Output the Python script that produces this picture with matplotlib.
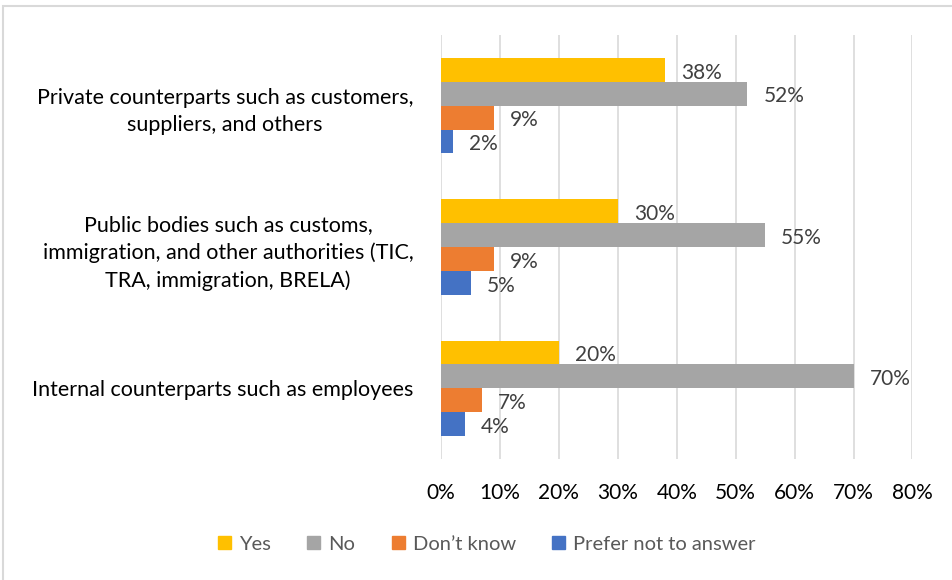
import matplotlib.pyplot as plt
import matplotlib.patches as mpatches
import numpy as np

plt.rcParams['font.family'] = ['Lato', 'DejaVu Sans']

categories = [
    'Private counterparts such as customers,\nsuppliers, and others',
    'Public bodies such as customs,\nimmigration, and other authorities (TIC,\nTRA, immigration, BRELA)',
    'Internal counterparts such as employees',
]
series_names = ['Yes', 'No', 'Don\u2019t know', 'Prefer not to answer']
yes = [38, 30, 20]
no = [52, 55, 70]
dont_know = [9, 9, 7]
prefer_not = [2, 5, 4]
xticks = [0, 10, 20, 30, 40, 50, 60, 70, 80]

colors = ['#FFC000', '#A5A5A5', '#ED7D31', '#4472C4']
values = [yes, no, dont_know, prefer_not]

fig = plt.figure(figsize=(9.53, 5.8), dpi=100)
ax = fig.add_axes([0.4628, 0.2086, 0.4947, 0.7311])

# outer chart frame
fig.patches.append(mpatches.Rectangle((3 / 953, -0.01), 1.0, 1 - 6 / 580 + 0.01,
                                      transform=fig.transFigure, fill=False,
                                      edgecolor='#D9D9D9', linewidth=1.5))

pos = np.arange(len(categories))
h = 0.169
offsets = [-1.5 * h, -0.5 * h, 0.5 * h, 1.5 * h]

for vals, col, off, name in zip(values, colors, offsets, series_names):
    bars = ax.barh(pos + off, vals, height=h, color=col, label=name, zorder=3)
    for b, v in zip(bars, vals):
        ax.annotate(f'{v}%', (v, b.get_y() + b.get_height() / 2),
                    xytext=(11.5, -2), textcoords='offset points',
                    ha='left', va='center', fontsize=15, color='#404040')

ax.set_xlim(0, 80)
ax.set_ylim(2.5, -0.5)
ax.set_xticks(xticks)
ax.set_xticklabels([f'{t}%' for t in xticks], fontsize=15, color='#000000')
ax.set_yticks(pos)
ax.set_yticklabels(categories, fontsize=15.5, color='#000000', linespacing=1.45)
for t in ax.get_yticklabels():
    t.set_multialignment('center')

ax.grid(axis='x', color='#D9D9D9', linewidth=1.2, zorder=0)
for s in ax.spines.values():
    s.set_visible(False)
ax.tick_params(axis='both', length=0)
ax.tick_params(axis='x', pad=17)
ax.tick_params(axis='y', pad=20)

handles = [mpatches.Patch(color=c) for c in colors]
fig.legend(handles, series_names, loc='center', bbox_to_anchor=(0.511, 0.062),
           ncol=4, frameon=False, fontsize=14.5, labelcolor='#595959',
           handlelength=0.65, handleheight=0.65, handletextpad=0.4,
           columnspacing=1.8)

fig.savefig('out.png', dpi=100, facecolor='white')
